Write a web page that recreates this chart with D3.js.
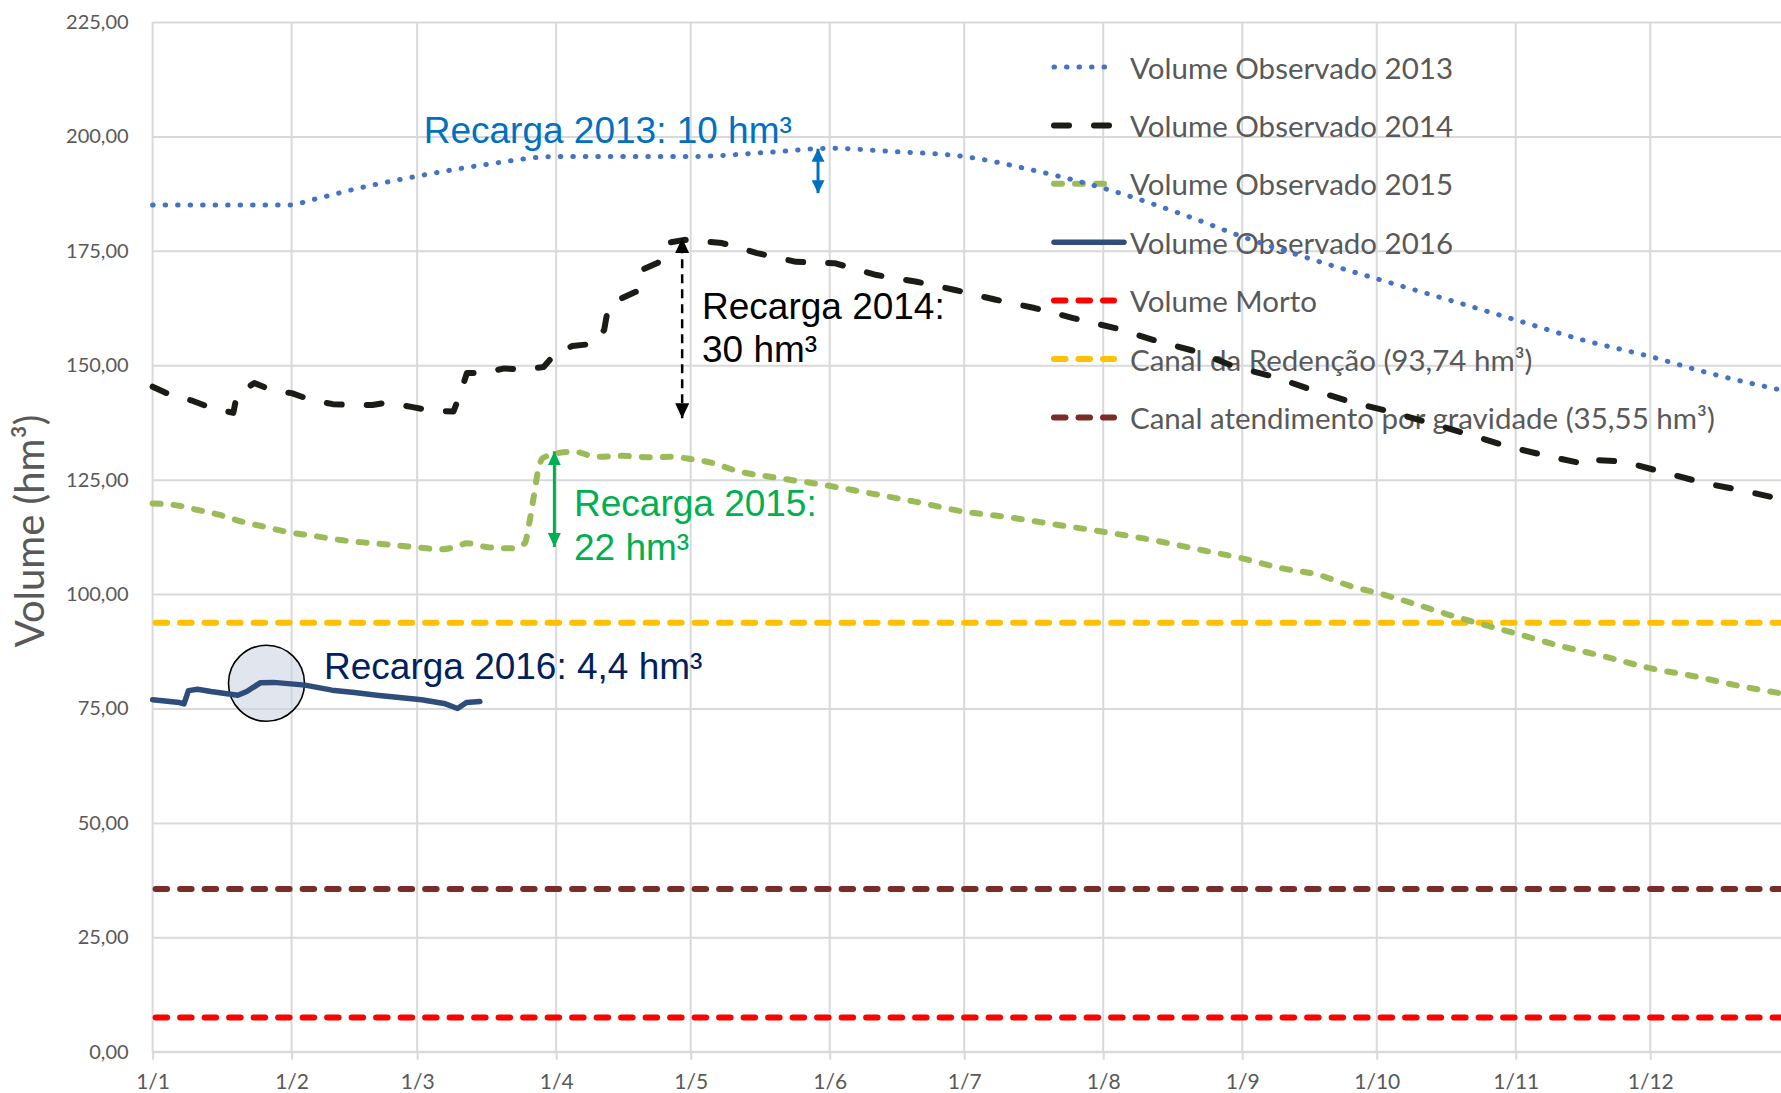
<!DOCTYPE html>
<html>
<head>
<meta charset="utf-8">
<script src="https://cdn.jsdelivr.net/npm/d3@7"></script>
<style>
  html, body { margin: 0; padding: 0; background: #ffffff; }
  svg { display: block; }
</style>
</head>
<body>
<svg id="chart" width="1781" height="1093"></svg>
<script>
// ---------------- DATA ----------------
const monthDays   = [0, 31, 59, 90, 120, 151, 181, 212, 243, 273, 304, 334];
const monthLabels = ["1/1","1/2","1/3","1/4","1/5","1/6","1/7","1/8","1/9","1/10","1/11","1/12"];
const yTicks      = [0, 25, 50, 75, 100, 125, 150, 175, 200, 225];

const days2013 = [0, 30, 37, 46, 59, 74, 90, 102, 120, 137, 151, 165, 181, 196, 212, 231, 243, 259, 274, 289, 304, 319, 334, 347, 365];
const vol2013  = [185.0, 185.0, 186.5, 188.7, 191.3, 193.8, 195.6, 195.6, 195.6, 196.5, 197.4, 196.7, 195.6, 192.7, 188.7, 182.5, 178.1, 173.0, 168.6, 164.3, 159.9, 155.5, 151.9, 148.3, 144.2];

const days2014 = [0, 4, 9, 13, 18, 18.8, 22.7, 26.7, 31, 35.4, 40.2, 44.2, 49, 52.1, 57.7, 62.1, 67.1, 68.5, 70.1, 73.7, 78.4, 82.4, 87.2, 89.6, 93.6, 98.4, 100.7, 101.5, 104.3, 107.9, 109.5, 112.7, 115.1, 118.6, 127, 134.8, 143.5, 152.1, 161.5, 170.1, 178.7, 188.1, 196.7, 205.3, 214.7, 223.3, 232.7, 241.3, 250, 258.6, 267.2, 275.8, 285.2, 293.8, 302.4, 311.8, 320.4, 322, 328.3, 337.7, 346.3, 355.7, 365];
const vol2014  = [145.3, 143.5, 142.2, 140.7, 139.6, 143.5, 146.1, 144.5, 143.9, 142.4, 141.5, 141.3, 141.3, 141.8, 140.9, 140.1, 139.9, 143.5, 148.3, 148.3, 149.3, 149.1, 149.6, 152.3, 154.2, 154.7, 157.7, 162.1, 164.5, 166.1, 171.0, 172.4, 176.8, 177.4, 176.7, 174.5, 172.6, 172.3, 169.7, 168.3, 166.5, 164.3, 162.5, 160.3, 158.1, 155.5, 153.0, 149.7, 147.5, 144.6, 142.0, 139.9, 137.3, 134.8, 132.2, 130.0, 128.2, 129.3, 128.9, 126.4, 124.2, 122.4, 120.3];

const days2015 = [0, 6, 10, 15, 20, 25, 31, 36, 42, 48, 54, 59, 64, 68, 70, 75, 80, 83, 84, 85, 86, 87, 91, 94, 99, 105, 111, 116, 120, 125, 130, 140, 150, 159, 170, 181, 190, 202, 212, 223, 233, 243, 252, 260, 267, 274, 281, 288, 295, 304, 313, 324, 334, 344, 353, 365];
const vol2015  = [119.8, 119.3, 118.4, 117.3, 115.8, 114.7, 113.4, 112.7, 111.8, 111.2, 110.7, 110.2, 109.8, 110.4, 111.1, 110.2, 110.0, 111.1, 115.5, 121.3, 127.1, 129.7, 130.9, 131.1, 130.0, 130.2, 129.9, 130.0, 129.5, 128.6, 127.0, 125.3, 123.8, 122.2, 120.2, 118.0, 116.9, 115.1, 113.6, 111.8, 109.8, 107.8, 105.6, 104.2, 101.8, 100.0, 98.0, 95.8, 93.8, 91.4, 88.9, 86.3, 83.8, 82.0, 80.1, 78.0];

const days2016 = [0, 6, 7, 8, 10, 13, 19, 21, 24, 27, 34, 40, 45, 50, 55, 60, 65, 68, 70, 73];
const vol2016  = [76.9, 76.3, 76.0, 78.9, 79.2, 78.7, 77.9, 78.7, 80.6, 80.7, 80.1, 79.0, 78.5, 77.9, 77.4, 76.9, 76.1, 75.0, 76.3, 76.5];

const volumeMorto   = 7.5;
const canalRedencao = 93.74;
const canalGravidade = 35.55;

const legendLabels = [
  "Volume Observado 2013",
  "Volume Observado 2014",
  "Volume Observado 2015",
  "Volume Observado 2016",
  "Volume Morto",
  "Canal da Redenção (93,74 hm³)",
  "Canal atendimento por gravidade (35,55 hm³)"
];

const recargaLabels = ["Recarga 2013: 10 hm³", "Recarga 2014:", "30 hm³", "Recarga 2015:", "22 hm³", "Recarga 2016: 4,4 hm³"];

// ---------------- SCALES ----------------
const svg = d3.select("#chart");
const plotLeft = 152.6, plotBottom = 1051.7, plotTop = 22, plotRight = 1781;
const x = d3.scaleLinear().domain([0, 365]).range([plotLeft, plotLeft + 365 * 4.484]);
const y = d3.scaleLinear().domain([0, 225]).range([plotBottom, plotTop]);

const locale = d3.formatLocale({decimal: ",", thousands: ".", grouping: [3], currency: ["", ""]});
const fmt = locale.format(".2f");

const gridColor = "#d9d9d9";
const textGrey = "#595959";
const tickFont = "Lato";

// ---------------- GRID & AXES ----------------
const yAxis = d3.axisLeft(y).tickValues(yTicks).tickFormat(fmt)
  .tickSize(-(plotRight - plotLeft)).tickPadding(24);
const gy = svg.append("g").attr("transform", `translate(${plotLeft},0)`).call(yAxis);
gy.select(".domain").remove();
gy.selectAll(".tick line").attr("stroke", gridColor).attr("stroke-width", 2);
gy.selectAll(".tick text").attr("fill", textGrey).attr("font-family", tickFont).attr("font-size", 20);

svg.append("g").selectAll("line").data(monthDays).join("line")
  .attr("x1", d => x(d)).attr("x2", d => x(d))
  .attr("y1", plotTop).attr("y2", plotBottom)
  .attr("stroke", gridColor).attr("stroke-width", 2);

const xAxis = d3.axisBottom(x).tickValues(monthDays).tickFormat((d, i) => monthLabels[i])
  .tickSize(8).tickPadding(14);
const gx = svg.append("g").attr("transform", `translate(0,${plotBottom})`).call(xAxis);
gx.select(".domain").attr("stroke", gridColor).attr("stroke-width", 2)
  .attr("d", `M${plotLeft},0H${plotRight}`);
gx.selectAll(".tick line").attr("stroke", gridColor).attr("stroke-width", 2);
gx.selectAll(".tick text").attr("fill", textGrey).attr("font-family", tickFont).attr("font-size", 21);

// y axis title
svg.append("text")
  .attr("transform", `translate(29,${(plotTop + plotBottom) / 2 - 6}) rotate(-90)`)
  .attr("text-anchor", "middle").attr("dominant-baseline", "central")
  .attr("fill", textGrey).attr("font-family", tickFont).attr("font-size", 40)
  .text("Volume (hm³)");

// ---------------- STYLES ----------------
const styles = [
  {color: "#4472C4", width: 5,   dash: "0.5 12",   cap: "round"},   // 2013 dotted
  {color: "#1c1c16", width: 6,   dash: "15 25",    cap: "round"},   // 2014 long dash
  {color: "#9BBB59", width: 6,   dash: "8 13",     cap: "round"},   // 2015 dash
  {color: "#2E4D7B", width: 5.5, dash: null,       cap: "round"},   // 2016 solid
  {color: "#FF0000", width: 6,   dash: "11.5 13",  cap: "round"},   // morto
  {color: "#FFC000", width: 6,   dash: "11.5 13",  cap: "round"},   // redencao
  {color: "#7A2C28", width: 6,   dash: "11.5 13",  cap: "round"}    // gravidade
];

function styleLine(sel, s) {
  sel.attr("fill", "none").attr("stroke", s.color).attr("stroke-width", s.width)
    .attr("stroke-linecap", s.cap).attr("stroke-linejoin", "round");
  if (s.dash) sel.attr("stroke-dasharray", s.dash);
  return sel;
}

// ---------------- LEGEND (drawn under the series) ----------------
const legendG = svg.append("g");
const legTop = 67, legStep = 58.4;
legendLabels.forEach((lab, i) => {
  const yy = legTop + i * legStep;
  const s = styles[i];
  const ln = legendG.append("line").attr("x1", 1054).attr("x2", i === 3 ? 1124 : 1114)
    .attr("y1", yy).attr("y2", yy);
  styleLine(ln, s);
  legendG.append("text").attr("x", 1130).attr("y", yy)
    .attr("dominant-baseline", "central").attr("fill", textGrey)
    .attr("font-family", tickFont).attr("font-size", 29.5).text(lab);
});

// ---------------- REFERENCE LINES ----------------
const refVals = [volumeMorto, canalRedencao, canalGravidade];
refVals.forEach((v, i) => {
  const ln = svg.append("line").attr("x1", plotLeft + 3).attr("x2", plotRight)
    .attr("y1", y(v)).attr("y2", y(v));
  styleLine(ln, styles[4 + i]);
});

// circle highlighting 2016 recharge (behind the series)
svg.append("circle").attr("cx", x(25.4)).attr("cy", y(80.5)).attr("r", 38)
  .attr("fill", "#c9d0de").attr("fill-opacity", 0.55)
  .attr("stroke", "#000000").attr("stroke-width", 1.6);

// ---------------- SERIES ----------------
const series = [
  {days: days2015, vals: vol2015, s: styles[2], curve: d3.curveMonotoneX},
  {days: days2014, vals: vol2014, s: styles[1], curve: d3.curveLinear},
  {days: days2013, vals: vol2013, s: styles[0], curve: d3.curveMonotoneX},
  {days: days2016, vals: vol2016, s: styles[3], curve: d3.curveLinear}
];
series.forEach(sr => {
  const pts = sr.days.map((d, i) => [d, sr.vals[i]]);
  const line = d3.line().x(d => x(d[0])).y(d => y(d[1])).curve(sr.curve);
  styleLine(svg.append("path").datum(pts).attr("d", line), sr.s);
});

// ---------------- ANNOTATIONS ----------------
const defs = svg.append("defs");
function marker(id, color, w, l) {
  defs.append("marker").attr("id", id).attr("viewBox", `0 0 ${l} ${w}`)
    .attr("refX", l).attr("refY", w / 2).attr("markerWidth", l).attr("markerHeight", w)
    .attr("markerUnits", "userSpaceOnUse").attr("orient", "auto-start-reverse")
    .append("path").attr("d", `M0,0L${l},${w / 2}L0,${w}Z`).attr("fill", color);
}
marker("arBlue", "#0070C0", 13, 13);
marker("arBlack", "#000000", 14, 15);
marker("arGreen", "#00B050", 13, 14);

function arrow(day, v1, v2, color, id, dash, w) {
  const a = svg.append("line").attr("x1", x(day)).attr("x2", x(day))
    .attr("y1", y(v2)).attr("y2", y(v1))
    .attr("stroke", color).attr("stroke-width", w)
    .attr("marker-start", `url(#${id})`).attr("marker-end", `url(#${id})`);
  if (dash) a.attr("stroke-dasharray", dash);
}
arrow(148.4, 197.3, 187.6, "#0070C0", "arBlue", null, 3);
arrow(118.1, 177.8, 138.4, "#000000", "arBlack", "9 6", 2.5);
arrow(89.6, 131.2, 110.3, "#00B050", "arGreen", null, 3);

const annFont = "Liberation Sans, Arial, sans-serif";
const ann = [
  {t: recargaLabels[0], x: 423.7, y: 143,  c: "#0070C0"},
  {t: recargaLabels[1], x: 702,   y: 319,  c: "#000000"},
  {t: recargaLabels[2], x: 702,   y: 362,  c: "#000000"},
  {t: recargaLabels[3], x: 574,   y: 516,  c: "#00B050"},
  {t: recargaLabels[4], x: 574,   y: 560,  c: "#00B050"},
  {t: recargaLabels[5], x: 324,   y: 679,  c: "#002060"}
];
ann.forEach(a => {
  svg.append("text").attr("x", a.x).attr("y", a.y).attr("fill", a.c)
    .attr("font-family", annFont).attr("font-size", 37).text(a.t);
});
</script>
</body>
</html>
